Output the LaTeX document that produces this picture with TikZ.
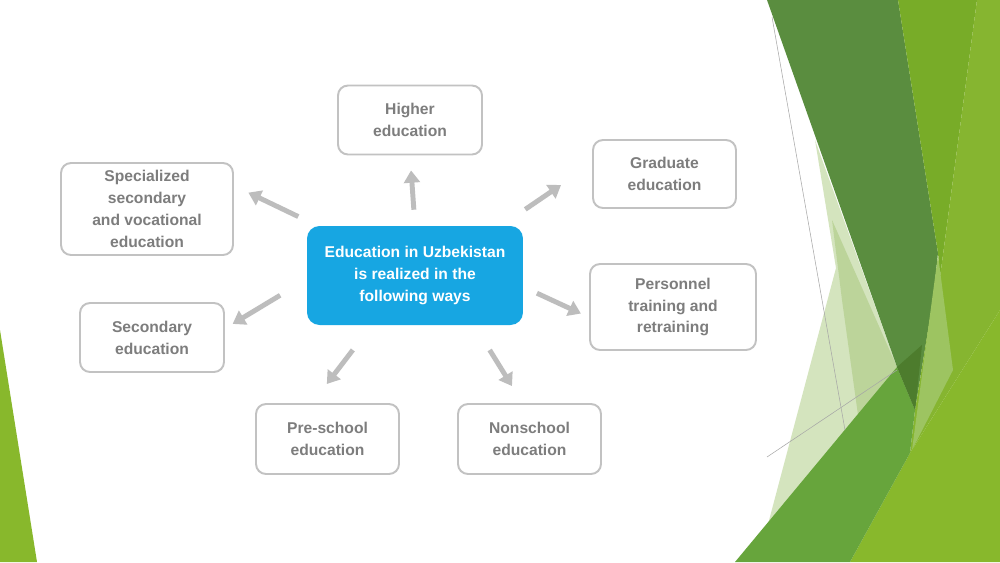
\documentclass[tikz,border=0pt]{standalone}
\usepackage{fontspec}
\setmainfont{Liberation Sans}
\usetikzlibrary{arrows.meta}

\definecolor{boxgray}{HTML}{C2C2C2}
\definecolor{txtgray}{HTML}{7D7D7D}
\definecolor{arrgray}{HTML}{BDBDBD}
\definecolor{edublue}{HTML}{17A6E2}
\definecolor{darkleaf}{HTML}{5A8D3F}
\definecolor{midleaf}{HTML}{78AC28}
\definecolor{lightleaf}{HTML}{86B530}
\definecolor{yellowleaf}{HTML}{88B82C}
\definecolor{wedgeleaf}{HTML}{67A53C}
\definecolor{paleleaf}{HTML}{D4E4BE}
\definecolor{paleleafb}{HTML}{BCD49A}
\definecolor{softleaf}{HTML}{9DC461}

\begin{document}
\begin{tikzpicture}[x=0.02cm, y=-0.02cm]
	\tikzset{
		waynode/.style={rectangle, rounded corners=0.2cm, draw=boxgray, line width=1.1pt, text=txtgray, font=\bfseries\fontsize{8.9}{12.5}\selectfont, align=center, inner sep=0pt},
		mainnode/.style={rectangle, rounded corners=0.25cm, fill=edublue, text=white, font=\bfseries\fontsize{8.9}{12.5}\selectfont, align=center, inner sep=0pt},
		wayarrow/.style={-{Triangle[width=9pt,length=7pt]}, line width=2.8pt, draw=arrgray},
		guide/.style={draw=black!35, line width=0.3pt},
	}
	\useasboundingbox (0,0) rectangle (1000,562);
	\clip (0,0) rectangle (1000,562);
	\fill[white] (0,0) rectangle (1000,562);

	% green facets
	\fill[yellowleaf] (0,330) -- (37,562) -- (0,562) -- cycle;
	\fill[paleleaf] (815,140) -- (897,367) -- (767,528) -- (836,268) -- cycle;
	\fill[paleleafb] (832,220) -- (897,367) -- (858,415) -- (842,300) -- cycle;
	\fill[darkleaf] (767,0) -- (898,0) -- (938,253) -- (933,300) -- (915,410) -- (897,367) -- cycle;
	\fill[midleaf] (898,0) -- (977,0) -- (940,277) -- (938,253) -- cycle;
	\fill[lightleaf] (977,0) -- (1000,0) -- (1000,310) -- (910,453) -- (915,410) -- (933,300) -- (940,277) -- cycle;
	\fill[softleaf] (938,255) -- (953,370) -- (912,450) -- cycle;
	\fill[yellowleaf] (850,562) -- (910,453) -- (1000,310) -- (1000,562) -- cycle;
	\fill[wedgeleaf] (735,562) -- (897,367) -- (915,410) -- (910,453) -- (850,562) -- cycle;
	\fill[black!25!wedgeleaf] (897,367) -- (922,345) -- (915,410) -- cycle;
	\draw[guide] (772,17) -- (845,430);
	\draw[guide] (767,457) -- (897,370);

	% the ways
	\node[mainnode, minimum width=4.32cm, minimum height=1.98cm] (ctr) at (415,275.5) {Education in Uzbekistan\\is realized in the\\following ways};
	\node[waynode, minimum width=2.88cm, minimum height=1.38cm] (hi) at (410,120) {Higher\\education};
	\node[waynode, minimum width=2.86cm, minimum height=1.36cm] (grad) at (664.5,174) {Graduate\\education};
	\node[waynode, minimum width=3.32cm, minimum height=1.72cm] (pers) at (673,307) {Personnel\\training and\\retraining};
	\node[waynode, minimum width=2.86cm, minimum height=1.40cm] (non) at (529.5,439) {Nonschool\\education};
	\node[waynode, minimum width=2.86cm, minimum height=1.40cm] (pre) at (327.5,439) {Pre-school\\education};
	\node[waynode, minimum width=2.88cm, minimum height=1.38cm] (sec) at (152,337.5) {Secondary\\education};
	\node[waynode, minimum width=3.44cm, minimum height=1.84cm] (spec) at (147,209) {Specialized\\secondary\\and vocational\\education};

	\draw[wayarrow, shorten <=0.32cm, shorten >=0.30cm] (ctr.north) -- (hi.south);
	\draw[wayarrow, shorten <=0.58cm, shorten >=0.75cm] (ctr.30) -- (grad.172);
	\draw[wayarrow, shorten <=0.30cm, shorten >=0.18cm] (ctr.-6) -- (pers.187);
	\draw[wayarrow, shorten <=0.58cm, shorten >=0.40cm] (ctr.-40) -- (non.101);
	\draw[wayarrow, shorten <=0.62cm, shorten >=0.48cm] (ctr.229) -- (pre.113);
	\draw[wayarrow, shorten <=0.62cm, shorten >=0.18cm] (ctr.182) -- (sec.7);
	\draw[wayarrow, shorten <=0.42cm, shorten >=0.32cm] (ctr.153) -- (spec.15);
\end{tikzpicture}
\end{document}
